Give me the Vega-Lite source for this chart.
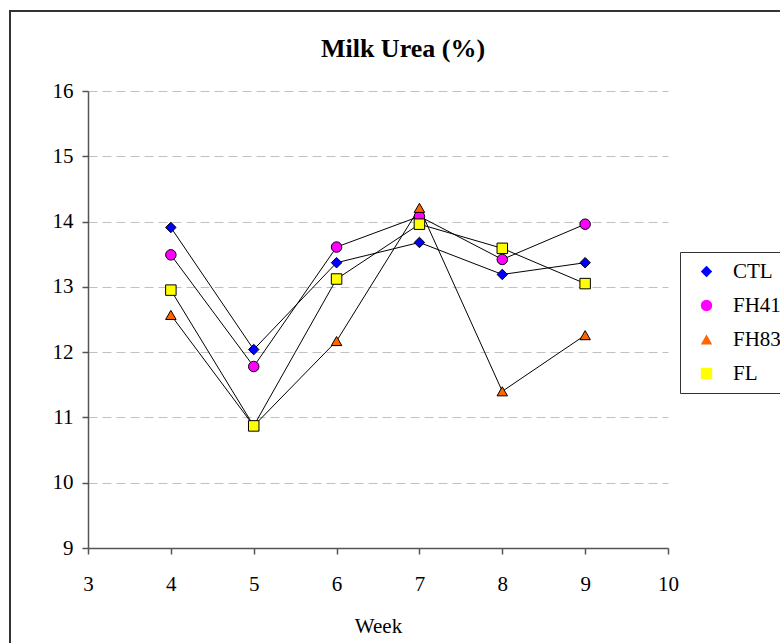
{
  "$schema": "https://vega.github.io/schema/vega-lite/v6.json",
  "autosize": {"type": "none"},
  "padding": {"left": 88, "top": 91, "right": 112, "bottom": 95},
  "width": 580,
  "height": 457,
  "background": "white",
  "config": {
    "view": {"stroke": null},
    "font": "Liberation Serif",
    "legend": {"labelFont": "Liberation Serif", "labelFontSize": 21, "labelColor": "black", "symbolStrokeColor": "black", "symbolStrokeWidth": 1, "symbolOpacity": 1},
    "axis": {"labelFont": "Liberation Serif", "titleFont": "Liberation Serif", "labelFontSize": 21, "titleFontSize": 21, "labelColor": "black", "titleColor": "black", "titleFontWeight": "normal", "tickSize": 6, "tickColor": "#555", "domainColor": "#555", "domainWidth": 1.5, "tickWidth": 1.5, "labelFlush": false, "format": "d"}
  },
  "title": {"text": "Milk Urea (%)", "fontSize": 26, "fontWeight": "bold", "font": "Liberation Serif", "color": "black", "anchor": "middle", "frame": "group", "dx": 25, "dy": 107, "offset": 34, "baseline": "alphabetic"},
  "layer": [
    {
      "data": {"values": [{"frame": 1}]},
      "mark": {"type": "rect", "fill": "transparent", "stroke": "#333", "strokeWidth": 2, "clip": false},
      "encoding": {
        "x": {"datum": 2.0586, "type": "quantitative", "title": "Week"},
        "x2": {"datum": 11.5},
        "y": {"datum": 17.225, "type": "quantitative", "title": null},
        "y2": {"datum": 7.3}
      }
    },
    {
      "data": {"name": "milk"},
      "mark": {"type": "line", "color": "black", "strokeWidth": 1},
      "encoding": {
        "x": {"field": "week", "type": "quantitative", "scale": {"domain": [3, 10], "nice": false, "zero": false},
          "axis": {"values": [3, 4, 5, 6, 7, 8, 9, 10], "format": "d", "title": "Week", "titlePadding": 21, "labelPadding": 19, "grid": false}},
        "y": {"field": "value", "type": "quantitative", "scale": {"domain": [9, 16], "nice": false, "zero": false},
          "axis": {"values": [9, 10, 11, 12, 13, 14, 15, 16], "format": "d", "title": null, "labelPadding": 9, "grid": true, "gridColor": "#c0c0c0", "gridDash": [9, 5], "gridWidth": 1}},
        "detail": {"field": "series", "type": "nominal"}
      }
    },
    {
      "data": {"name": "milk"},
      "mark": {"type": "point", "filled": true, "size": 110, "stroke": "black", "strokeWidth": 1, "opacity": 1},
      "encoding": {
        "x": {"field": "week", "type": "quantitative", "title": "Week"},
        "y": {"field": "value", "type": "quantitative", "title": null},
        "shape": {"field": "series", "type": "nominal",
          "scale": {"domain": ["CTL", "FH41", "FH83", "FL"], "range": ["diamond", "circle", "triangle-up", "square"]},
          "legend": {"title": null, "orient": "none", "legendX": 592, "legendY": 161, "padding": 9, "strokeColor": "#333",
            "labelFontSize": 21, "labelFont": "Liberation Serif", "labelColor": "black", "symbolOffset": 7, "labelOffset": 16, "rowPadding": 12, "symbolSize": 130, "symbolStrokeColor": "black", "symbolStrokeWidth": 1, "labelLimit": 0}},
        "fill": {"field": "series", "type": "nominal",
          "scale": {"domain": ["CTL", "FH41", "FH83", "FL"], "range": ["#0000FF", "#FF00FF", "#FF6600", "#FFFF00"]},
          "legend": {"title": null, "orient": "none", "legendX": 592, "legendY": 161, "padding": 9, "strokeColor": "#333",
            "labelFontSize": 21, "labelFont": "Liberation Serif", "labelColor": "black", "symbolOffset": 7, "labelOffset": 16, "rowPadding": 12, "symbolSize": 130, "symbolStrokeColor": "black", "symbolStrokeWidth": 1, "labelLimit": 0}}
      }
    }
  ],
  "datasets": {"milk": [
    {"series": "CTL", "week": 4, "value": 13.91},
    {"series": "CTL", "week": 5, "value": 12.04},
    {"series": "CTL", "week": 6, "value": 13.37},
    {"series": "CTL", "week": 7, "value": 13.68},
    {"series": "CTL", "week": 8, "value": 13.19},
    {"series": "CTL", "week": 9, "value": 13.37},
    {"series": "FH41", "week": 4, "value": 13.49},
    {"series": "FH41", "week": 5, "value": 11.78},
    {"series": "FH41", "week": 6, "value": 13.61},
    {"series": "FH41", "week": 7, "value": 14.08},
    {"series": "FH41", "week": 8, "value": 13.42},
    {"series": "FH41", "week": 9, "value": 13.96},
    {"series": "FH83", "week": 4, "value": 12.57},
    {"series": "FH83", "week": 5, "value": 10.87},
    {"series": "FH83", "week": 6, "value": 12.17},
    {"series": "FH83", "week": 7, "value": 14.21},
    {"series": "FH83", "week": 8, "value": 11.40},
    {"series": "FH83", "week": 9, "value": 12.26},
    {"series": "FL", "week": 4, "value": 12.95},
    {"series": "FL", "week": 5, "value": 10.87},
    {"series": "FL", "week": 6, "value": 13.12},
    {"series": "FL", "week": 7, "value": 13.96},
    {"series": "FL", "week": 8, "value": 13.59},
    {"series": "FL", "week": 9, "value": 13.05}
  ]}
}
